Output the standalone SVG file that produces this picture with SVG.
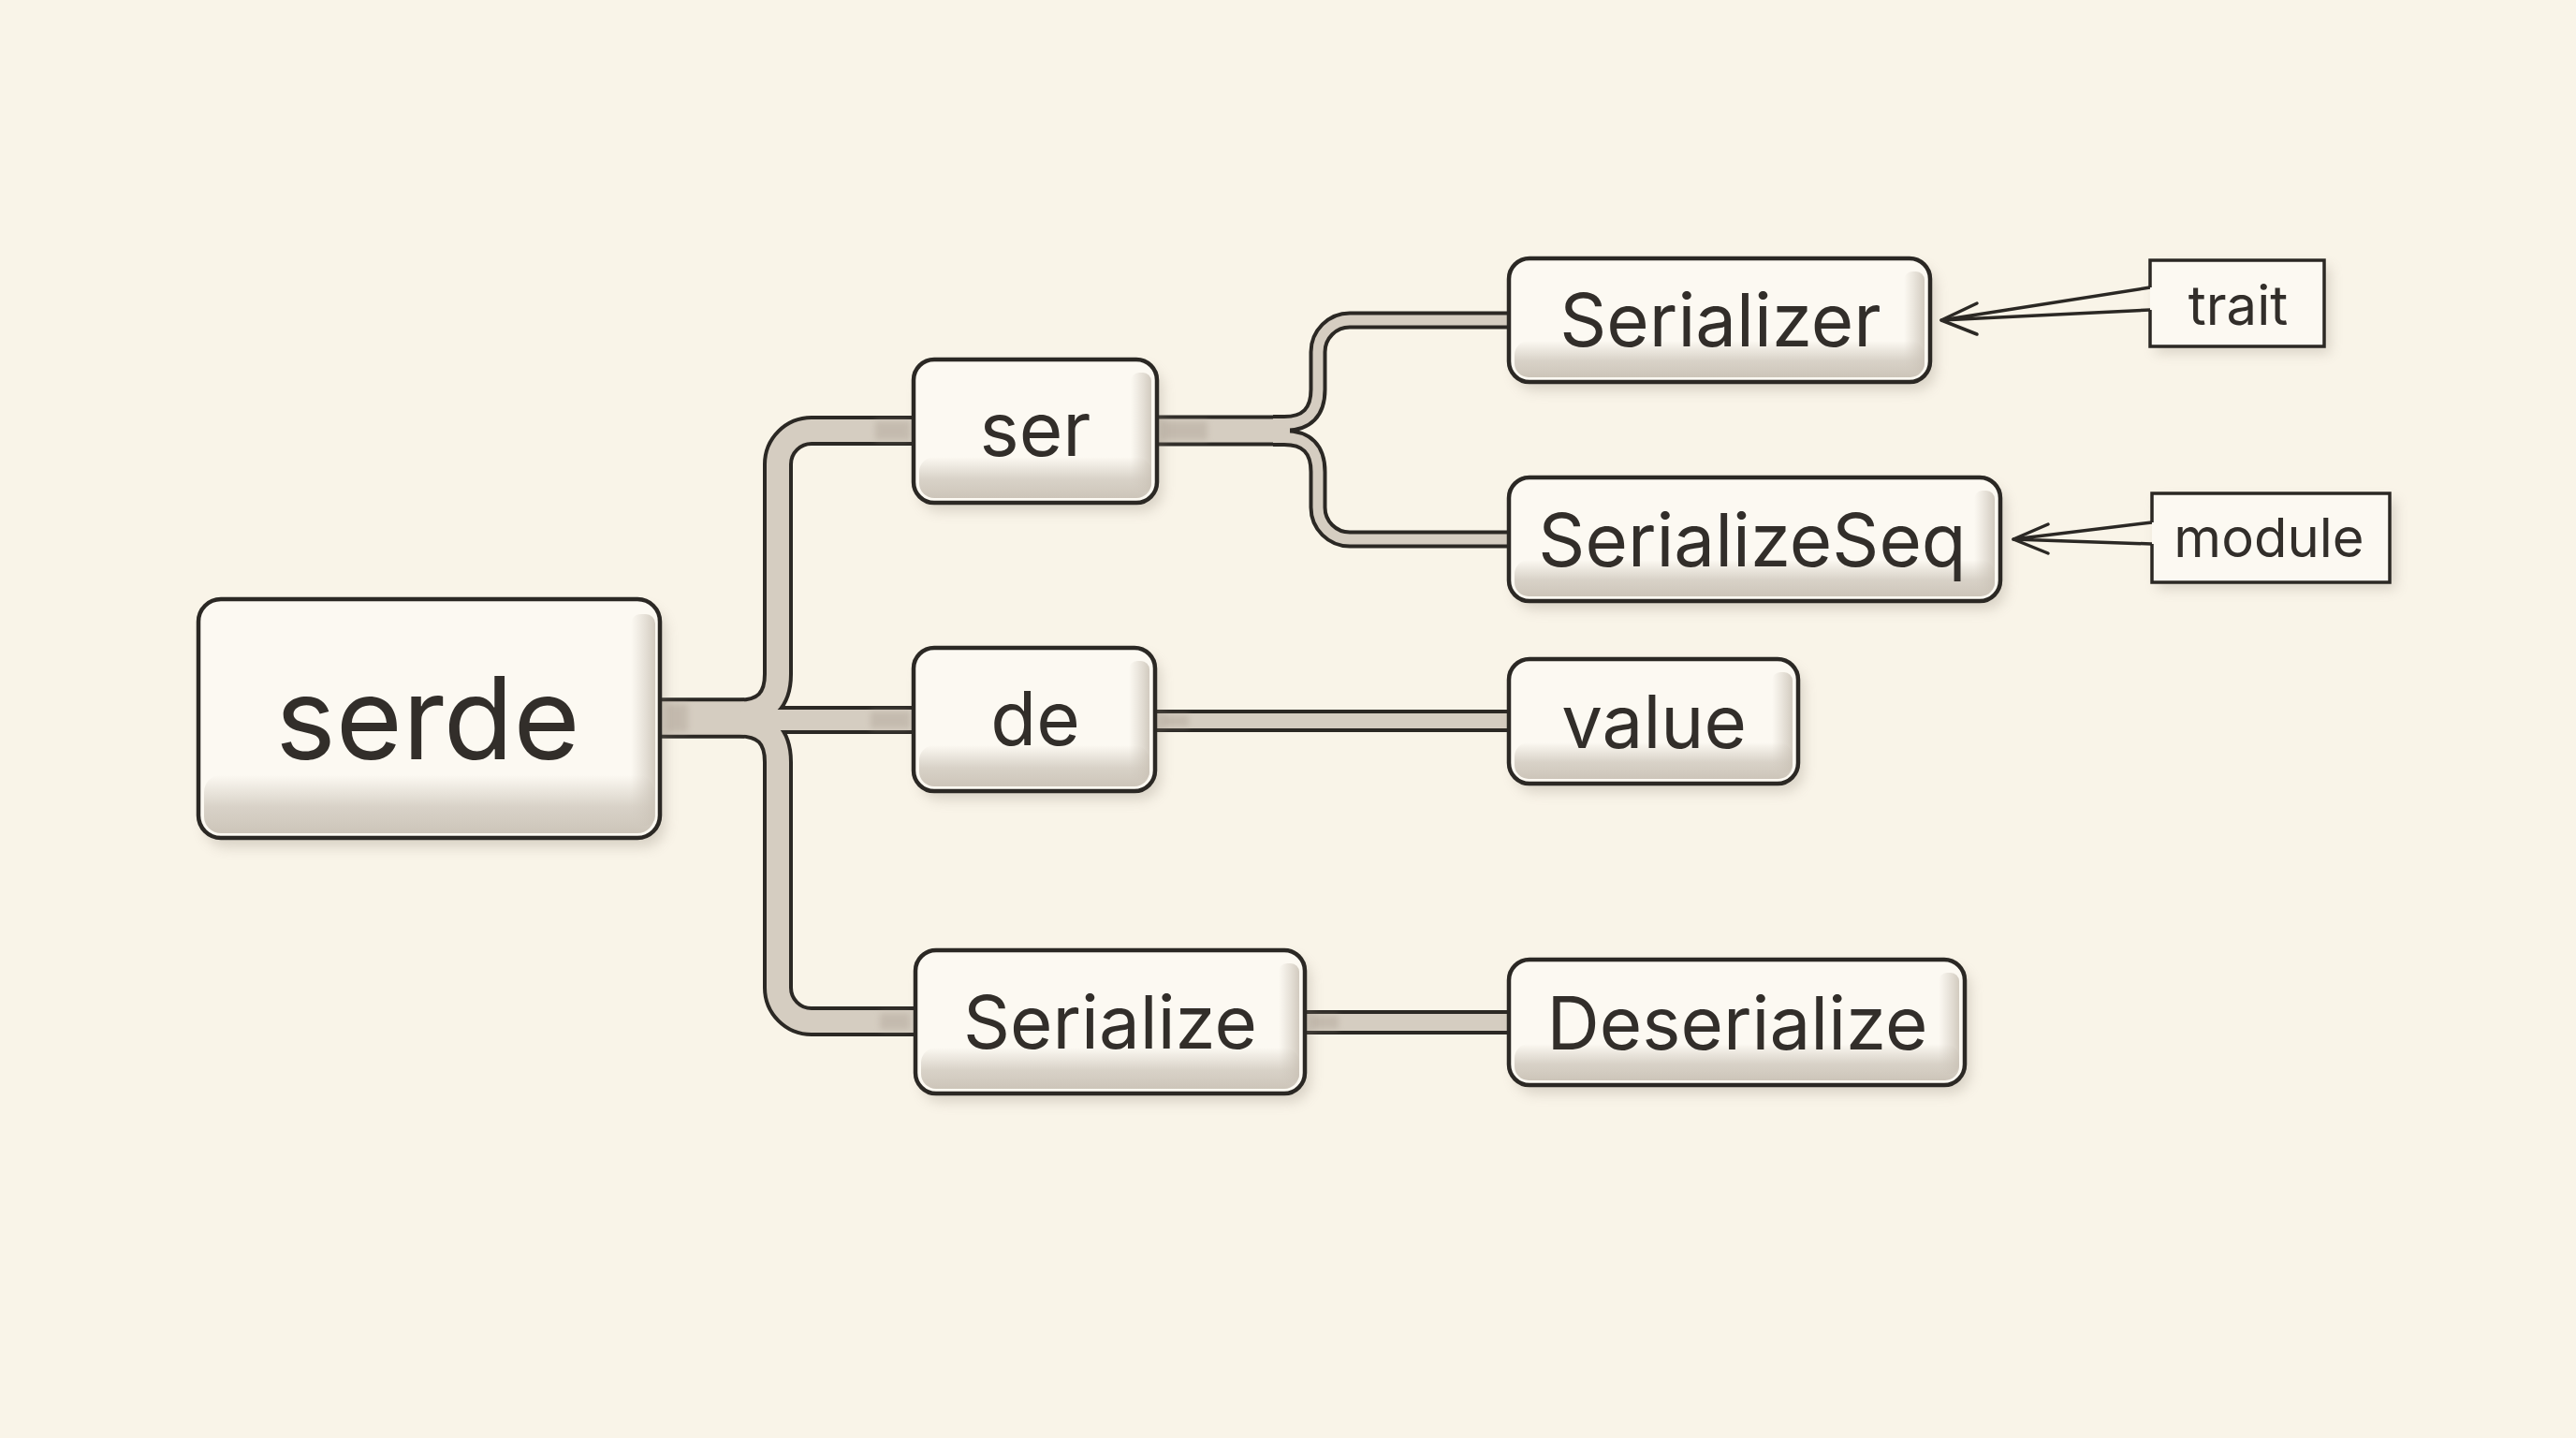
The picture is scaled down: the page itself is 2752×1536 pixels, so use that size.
<svg xmlns="http://www.w3.org/2000/svg" width="2752" height="1536" viewBox="0 0 2752 1536">
<defs>
<style>
.bg{fill:#f9f4e8}
.shadow{fill:#8f8578;opacity:.30;filter:url(#blur)}
.box{fill:#fcf9f2;stroke:#2b2824;stroke-width:4.5}
.call{fill:#fcf9f2;stroke:#2b2824;stroke-width:3.5;stroke-linejoin:miter}
.sb{fill:url(#gb)}
.sr{fill:url(#gr)}
.lbl{font-family:Inter,"Liberation Sans",sans-serif;fill:#322e2a;text-anchor:middle}
.dark{fill:none;stroke:#2b2824}
.pf{fill:none;stroke:#d5cdc1}
.patch{fill:none;stroke:#b9afa2;opacity:.6;filter:url(#blur2)}
.arr{fill:none;stroke:#2b2824;stroke-width:3.5;stroke-linecap:round;stroke-linejoin:round}
</style>
<filter id="blur" x="-20%" y="-20%" width="140%" height="140%"><feGaussianBlur stdDeviation="7"/></filter>
<filter id="blur2" x="-20%" y="-50%" width="140%" height="200%"><feGaussianBlur stdDeviation="3"/></filter>
<linearGradient id="gb" x1="0" y1="0" x2="0" y2="1">
<stop offset="0" stop-color="#d2cbc0" stop-opacity="0"/>
<stop offset="0.55" stop-color="#d2cbc0" stop-opacity="0.85"/>
<stop offset="1" stop-color="#cac2b6" stop-opacity="0.95"/>
</linearGradient>
<linearGradient id="gr" x1="0" y1="0" x2="1" y2="0">
<stop offset="0" stop-color="#d2cbc0" stop-opacity="0"/>
<stop offset="1" stop-color="#cac2b6" stop-opacity="0.85"/>
</linearGradient>
</defs>
<rect class="bg" x="0" y="0" width="2752" height="1536"/>

<g id="connectors">
<g class="dark">
<path d="M705,767 H795" stroke-width="43"/>
<path d="M700,761.5 H790 Q831,761.5 831,720 V496 A36,36 0 0 1 867,460 H985" stroke-width="32"/>
<path d="M700,772.5 H790 Q831,772.5 831,814 V1055 A36,36 0 0 0 867,1091 H985" stroke-width="32"/>
<path d="M800,769 H985" stroke-width="30"/>
<path d="M1230,460 H1378" stroke-width="33"/>
<path d="M1360,452.5 H1372 Q1408,452.5 1408,416 V376 A34,34 0 0 1 1442,342 H1618" stroke-width="19"/>
<path d="M1360,467.5 H1372 Q1408,467.5 1408,504 V542 A34,34 0 0 0 1442,576 H1618" stroke-width="19"/>
<path d="M1230,770 H1618" stroke-width="24"/>
<path d="M1390,1092 H1618" stroke-width="26"/>
</g>
<g class="pf">
<path d="M700,767 H795" stroke-width="35"/>
<path d="M700,761.5 H790 Q831,761.5 831,720 V496 A36,36 0 0 1 867,460 H985" stroke-width="24"/>
<path d="M700,772.5 H790 Q831,772.5 831,814 V1055 A36,36 0 0 0 867,1091 H985" stroke-width="24"/>
<path d="M800,769 H985" stroke-width="22"/>
<path d="M1230,460 H1378" stroke-width="25"/>
<path d="M1360,452.5 H1372 Q1408,452.5 1408,416 V376 A34,34 0 0 1 1442,342 H1618" stroke-width="11"/>
<path d="M1360,467.5 H1372 Q1408,467.5 1408,504 V542 A34,34 0 0 0 1442,576 H1618" stroke-width="11"/>
<path d="M1230,770 H1618" stroke-width="16"/>
<path d="M1390,1092 H1618" stroke-width="18"/>
</g>
<g class="patch">
<path d="M712,767 H735" stroke-width="30"/>
<path d="M935,460 H972" stroke-width="20"/>
<path d="M930,769 H972" stroke-width="18"/>
<path d="M940,1091 H972" stroke-width="18"/>
<path d="M1240,460 H1290" stroke-width="20"/>
<path d="M1240,770 H1270" stroke-width="12"/>
<path d="M1400,1092 H1430" stroke-width="14"/>
</g>
<path class="arr" d="M2297,307 L2074,342 L2297,331"/>
<path class="arr" d="M2112,324 L2074,342 L2112,357"/>
<path class="arr" d="M2299,558 L2151,576 L2299,581"/>
<path class="arr" d="M2188,560 L2151,576 L2188,591"/>
</g>

<g id="node-serde">
<rect class="shadow" x="218" y="650" width="493" height="255" rx="24"/>
<rect class="box" x="212" y="640" width="493" height="255" rx="24"/>
<rect class="sb" x="218" y="828" width="481" height="62" rx="18"/>
<rect class="sr" x="674" y="656" width="26" height="226" rx="10"/>
<text class="lbl" x="457" y="811" font-size="122">serde</text>
</g>

<g id="node-ser">
<rect class="shadow" x="982" y="393" width="260" height="153" rx="22"/>
<rect class="box" x="976" y="384" width="260" height="153" rx="22"/>
<rect class="sb" x="982" y="488" width="248" height="44" rx="16"/>
<rect class="sr" x="1208" y="398" width="22" height="128" rx="9"/>
<text class="lbl" x="1106" y="487" font-size="80">ser</text>
</g>

<g id="node-de">
<rect class="shadow" x="982" y="701" width="258" height="153" rx="22"/>
<rect class="box" x="976" y="692" width="258" height="153" rx="22"/>
<rect class="sb" x="982" y="796" width="246" height="44" rx="16"/>
<rect class="sr" x="1206" y="706" width="22" height="128" rx="9"/>
<text class="lbl" x="1106" y="796" font-size="80">de</text>
</g>

<g id="node-Serialize">
<rect class="shadow" x="984" y="1024" width="416" height="153" rx="22"/>
<rect class="box" x="978" y="1015" width="416" height="153" rx="22"/>
<rect class="sb" x="984" y="1119" width="404" height="44" rx="16"/>
<rect class="sr" x="1366" y="1029" width="22" height="128" rx="9"/>
<text class="lbl" x="1186" y="1120" font-size="78">Serialize</text>
</g>

<g id="node-Serializer">
<rect class="shadow" x="1618" y="285" width="450" height="132" rx="22"/>
<rect class="box" x="1612" y="276" width="450" height="132" rx="22"/>
<rect class="sb" x="1618" y="364" width="438" height="39" rx="15"/>
<rect class="sr" x="2034" y="290" width="22" height="108" rx="9"/>
<text class="lbl" x="1838" y="370" font-size="78">Serializer</text>
</g>

<g id="node-SerializeSeq">
<rect class="shadow" x="1618" y="519" width="525" height="132" rx="22"/>
<rect class="box" x="1612" y="510" width="525" height="132" rx="22"/>
<rect class="sb" x="1618" y="598" width="513" height="39" rx="15"/>
<rect class="sr" x="2109" y="524" width="22" height="108" rx="9"/>
<text class="lbl" x="1872" y="605" font-size="78">SerializeSeq</text>
</g>

<g id="node-value">
<rect class="shadow" x="1618" y="713" width="309" height="133" rx="22"/>
<rect class="box" x="1612" y="704" width="309" height="133" rx="22"/>
<rect class="sb" x="1618" y="793" width="297" height="39" rx="15"/>
<rect class="sr" x="1893" y="718" width="22" height="108" rx="9"/>
<text class="lbl" x="1767" y="799" font-size="78">value</text>
</g>

<g id="node-Deserialize">
<rect class="shadow" x="1618" y="1034" width="487" height="134" rx="22"/>
<rect class="box" x="1612" y="1025" width="487" height="134" rx="22"/>
<rect class="sb" x="1618" y="1115" width="475" height="39" rx="15"/>
<rect class="sr" x="2071" y="1039" width="22" height="108" rx="9"/>
<text class="lbl" x="1856" y="1121" font-size="78">Deserialize</text>
</g>

<g id="node-trait">
<rect class="shadow" x="2303" y="285" width="186" height="92"/>
<rect x="2299" y="280" width="182" height="88" fill="#fcf9f2"/>
<rect class="sb" x="2300" y="338" width="180" height="30"/>
<rect class="sr" x="2463" y="282" width="18" height="86"/>
<path class="call" fill="none" d="M2297,307 V278 H2483 V370 H2297 V331"/>
<text class="lbl" x="2391" y="347" font-size="58">trait</text>
</g>

<g id="node-module">
<rect class="shadow" x="2305" y="534" width="254" height="95"/>
<rect x="2301" y="529" width="250" height="91" fill="#fcf9f2"/>
<rect class="sb" x="2302" y="588" width="249" height="32"/>
<rect class="sr" x="2533" y="531" width="18" height="89"/>
<path class="call" fill="none" d="M2299,558 V527 H2553 V622 H2299 V581"/>
<text class="lbl" x="2424" y="595" font-size="58">module</text>
</g>
</svg>
